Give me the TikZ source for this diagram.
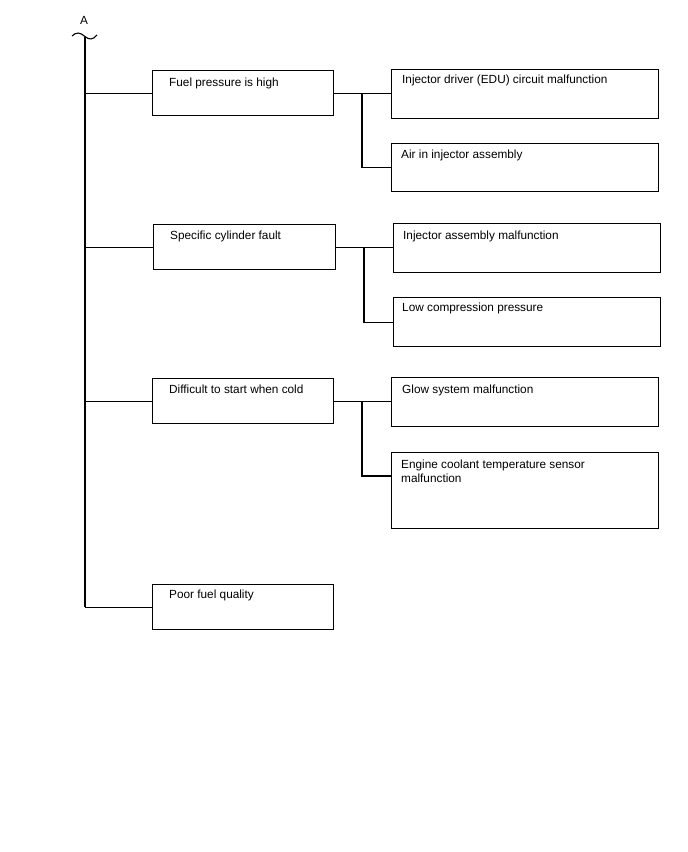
\documentclass[tikz,border=0pt]{standalone}
\usepackage{fontspec}
\setmainfont{Liberation Sans}
\begin{document}
\begin{tikzpicture}[x=1pt,y=-1pt,
  box/.style={draw, line width=1.1pt, anchor=north west, inner sep=0pt},
  lbl/.style={anchor=base west, inner sep=0pt, font=\fontsize{11.8}{14}\selectfont, align=left},
  ln/.style={line width=1.1pt}]
\useasboundingbox[fill=white] (0,0) rectangle (688,852);

% title
\node[lbl, anchor=base] (A) at (84,24.5) {A};
\coordinate (top) at (85,36.5);
\coordinate (bot) at (85,606.5);
\draw[ln] (72,36) .. controls (76,32) and (80,32) .. (top) .. controls (89,40) and (93,40) .. (97,35);
\draw[ln] (top) -- (bot);

% left boxes
\node[box, minimum width=181pt, minimum height=45pt] (L1) at (152,70) {};
\node[box, minimum width=182pt, minimum height=45pt] (L2) at (153,224) {};
\node[box, minimum width=181pt, minimum height=45pt] (L3) at (152,378) {};
\node[box, minimum width=181pt, minimum height=45pt] (L4) at (152,584) {};
\node[lbl] (tL1) at (169,86) {Fuel pressure is high};
\node[lbl] (tL2) at (170,239) {Specific cylinder fault};
\node[lbl] (tL3) at (169,393) {Difficult to start when cold};
\node[lbl] (tL4) at (169,598) {Poor fuel quality};

% right boxes
\node[box, minimum width=267pt, minimum height=49pt] (R1a) at (391,69) {};
\node[box, minimum width=267pt, minimum height=48pt] (R1b) at (391,143) {};
\node[box, minimum width=267pt, minimum height=49pt] (R2a) at (393,223) {};
\node[box, minimum width=267pt, minimum height=49pt] (R2b) at (393,297) {};
\node[box, minimum width=267pt, minimum height=49pt] (R3a) at (391,377) {};
\node[box, minimum width=267pt, minimum height=76pt] (R3b) at (391,452) {};
\node[lbl] (tR1a) at (402,83.5) {Injector driver (EDU) circuit malfunction};
\node[lbl] (tR1b) at (401,158) {Air in injector assembly};
\node[lbl] (tR2a) at (403,239) {Injector assembly malfunction};
\node[lbl] (tR2b) at (402,311) {Low compression pressure};
\node[lbl] (tR3a) at (402,393) {Glow system malfunction};
\node[lbl] (tR3b) at (401,482) {Engine coolant temperature sensor\\malfunction};

% junction columns
\coordinate (J1) at (362,0);
\coordinate (J2) at (364,0);
\coordinate (J3) at (362,0);
\coordinate (E3b) at (391,476);

% trunk branches
\foreach \b in {L1,L2,L3,L4} \draw[ln] (\b.west -| top) -- (\b.west);

% right connectors
\draw[ln] (L1.east) -- (L1.east -| R1a.west);
\draw[ln] (L1.east -| J1) |- (R1b.west);
\draw[ln] (L2.east) -- (L2.east -| R2a.west);
\draw[ln] (L2.east -| J2) |- (R2b.west);
\draw[ln] (L3.east) -- (L3.east -| R3a.west);
\draw[ln] (L3.east -| J3) |- (E3b);
\end{tikzpicture}
\end{document}
